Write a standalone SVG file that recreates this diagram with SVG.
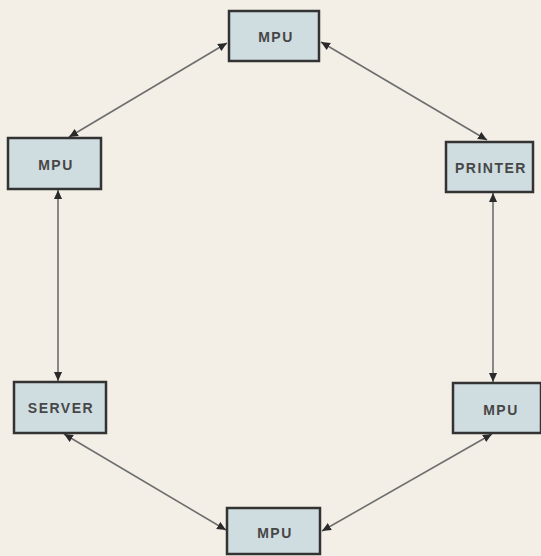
<svg xmlns="http://www.w3.org/2000/svg" width="541" height="556" viewBox="0 0 541 556">
  <style>
    .box { fill: #cfdde0; stroke: #333333; stroke-width: 2.5; }
    .lbl { font-family: "Liberation Sans", Arial, sans-serif; font-size: 14px; font-weight: bold; fill: #474747; text-anchor: middle; dominant-baseline: central; letter-spacing: 1.5px; }
    .conn { stroke: #6e6e6e; stroke-width: 1.6; fill: none; marker-start: url(#ah); marker-end: url(#ah); }
  </style>
  <defs>
    <marker id="ah" viewBox="0 0 10 10" refX="10" refY="5" markerWidth="9" markerHeight="9" markerUnits="userSpaceOnUse" orient="auto-start-reverse">
      <path d="M0,0.5 L10,5 L0,9.5 z" fill="#2a2a2a"/>
    </marker>
  </defs>
  <rect x="0" y="0" width="541" height="556" fill="#f3efe6"/>
  <g id="connectors">
    <line class="conn" x1="227" y1="43" x2="69" y2="137"/>
    <line class="conn" x1="321" y1="42" x2="487" y2="140"/>
    <line class="conn" x1="58" y1="190" x2="58" y2="381"/>
    <line class="conn" x1="493" y1="193" x2="493" y2="382"/>
    <line class="conn" x1="64" y1="434" x2="226" y2="530"/>
    <line class="conn" x1="492" y1="434" x2="322" y2="531"/>
  </g>
  <g id="mpu-top">
    <rect class="box" x="229" y="11" width="90" height="50"/>
    <text class="lbl" x="276" y="37">MPU</text>
  </g>
  <g id="mpu-left">
    <rect class="box" x="8" y="138" width="93" height="51"/>
    <text class="lbl" x="56" y="165">MPU</text>
  </g>
  <g id="printer">
    <rect class="box" x="446" y="142" width="87" height="50"/>
    <text class="lbl" x="491" y="168">PRINTER</text>
  </g>
  <g id="server">
    <rect class="box" x="14" y="382" width="92" height="51"/>
    <text class="lbl" x="61" y="408">SERVER</text>
  </g>
  <g id="mpu-right">
    <rect class="box" x="453" y="383" width="88" height="50"/>
    <text class="lbl" x="501" y="410">MPU</text>
  </g>
  <g id="mpu-bottom">
    <rect class="box" x="227" y="508" width="93" height="46"/>
    <text class="lbl" x="275" y="533">MPU</text>
  </g>
</svg>
